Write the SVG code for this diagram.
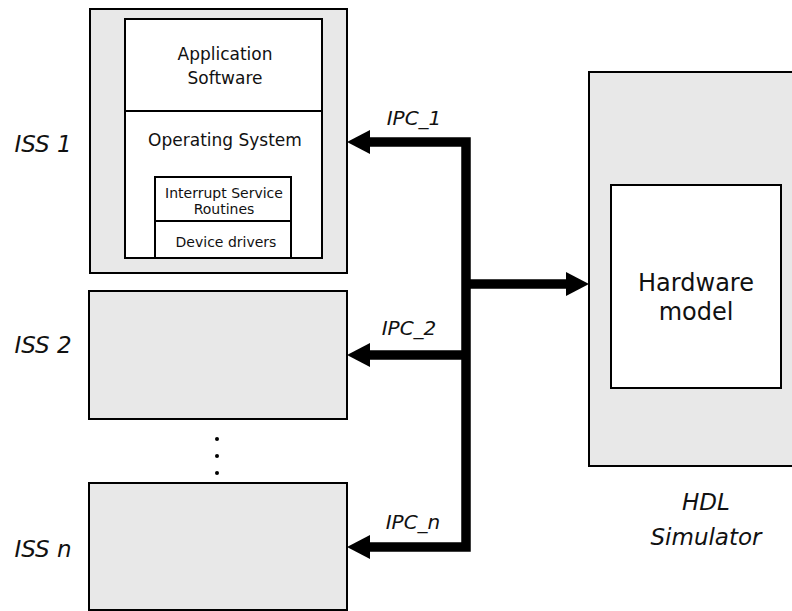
<svg xmlns="http://www.w3.org/2000/svg" width="792" height="611" viewBox="0 0 792 611">
  <style>
    .box { fill: #e8e8e8; stroke: #000; stroke-width: 2; }
    .pane { fill: #fff; stroke: #000; stroke-width: 2; }
    .bus { fill: none; stroke: #000; stroke-width: 9.5; stroke-linejoin: miter; }
    text { font-family: "DejaVu Sans", Verdana, sans-serif; fill: #111; }
    .t17 { font-size: 17px; text-anchor: middle; }
    .t14 { font-size: 14px; text-anchor: middle; }
    .hw { font-size: 24px; text-anchor: middle; }
    .lbl { font-size: 23px; font-style: italic; text-anchor: middle; }
    .ipc { font-size: 20px; font-style: italic; text-anchor: middle; }
  </style>
  <defs>
    <marker id="head" markerUnits="userSpaceOnUse" markerWidth="24" markerHeight="24" refX="0" refY="12" orient="auto-start-reverse" overflow="visible">
      <path d="M0,0 L23,12 L0,24 Z" fill="#000"/>
    </marker>
  </defs>

  <!-- ISS 1 with its software stack -->
  <g id="iss1">
    <rect class="box" x="90" y="9" width="257" height="264"/>
    <rect class="pane" x="125" y="19" width="197" height="239"/>
    <line x1="125" y1="111" x2="322" y2="111" stroke="#000" stroke-width="2"/>
    <text class="t17" x="225" y="60">Application</text>
    <text class="t17" x="225" y="84">Software</text>
    <text class="t17" x="225" y="146">Operating System</text>
    <rect class="pane" x="155" y="177" width="136" height="81"/>
    <line x1="155" y1="221" x2="291" y2="221" stroke="#000" stroke-width="2"/>
    <text class="t14" x="224" y="198">Interrupt Service</text>
    <text class="t14" x="224" y="214">Routines</text>
    <text class="t14" x="226" y="247">Device drivers</text>
    <text class="lbl" x="43" y="152">ISS 1</text>
  </g>

  <g id="iss2">
    <rect class="box" x="89" y="291" width="258" height="128"/>
    <text class="lbl" x="43" y="353">ISS 2</text>
  </g>

  <g id="ellipsis">
    <circle cx="217" cy="439" r="2"/>
    <circle cx="217" cy="456" r="2"/>
    <circle cx="217" cy="473" r="2"/>
  </g>

  <g id="issn">
    <rect class="box" x="89" y="483" width="258" height="127"/>
    <text class="lbl" x="43" y="557">ISS n</text>
  </g>

  <g id="hdl">
    <rect class="box" x="589" y="72" width="210" height="394"/>
    <rect class="pane" x="611" y="185" width="170" height="203"/>
    <text class="hw" x="696" y="291">Hardware</text>
    <text class="hw" x="696" y="320">model</text>
    <text class="lbl" x="706" y="510">HDL</text>
    <text class="lbl" x="706" y="545">Simulator</text>
  </g>

  <!-- IPC channels -->
  <g id="connectors">
    <path class="bus" d="M370,142 H466 V547 H370" marker-start="url(#head)" marker-end="url(#head)"/>
    <path class="bus" d="M466,355 H370" marker-end="url(#head)"/>
    <path class="bus" d="M466,284 H566" marker-end="url(#head)"/>
    <text class="ipc" x="414" y="125">IPC_1</text>
    <text class="ipc" x="409" y="335">IPC_2</text>
    <text class="ipc" x="413" y="529">IPC_n</text>
  </g>
</svg>
